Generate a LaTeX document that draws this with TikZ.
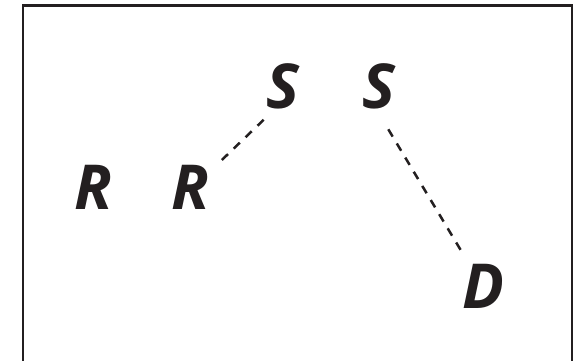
\documentclass[tikz,border=0pt]{standalone}
\usepackage{fontspec}
\setmainfont{Open Sans}
\usetikzlibrary{calc}
\definecolor{ink}{HTML}{231F20}
\tikzset{
  letter/.style={inner sep=0pt, text=ink, font=\fontsize{62}{62}\selectfont\bfseries\itshape},
  link/.style={draw=ink, line width=2.5pt, dash pattern=on 8.5pt off 8pt},
  frame/.style={draw=ink, line width=2.4pt}
}
\begin{document}
\begin{tikzpicture}[x=1pt,y=-1pt]
\useasboundingbox (0,0) rectangle (586,360);
\fill[white] (0,0) rectangle (586,360);
\draw[frame] (23,370) -- (23,5.5) -- (572,5.5) -- (572,370);
\node[letter] (R1) at (93,187.5) {R};
\node[letter] (R2) at (190,187.5) {R};
\node[letter] (S1) at (283,86) {S};
\node[letter] (S2) at (379,86) {S};
\node[letter] (D) at (483,286.5) {D};
\draw[link] ($(R2.center)+(31.8,-27.5)$) -- ($(S1.center)+(-16.1,30.7)$);
\draw[link] ($(S2.center)+(9.3,43.3)$) -- ($(D.center)+(-21.3,-34.8)$);
\end{tikzpicture}
\end{document}
